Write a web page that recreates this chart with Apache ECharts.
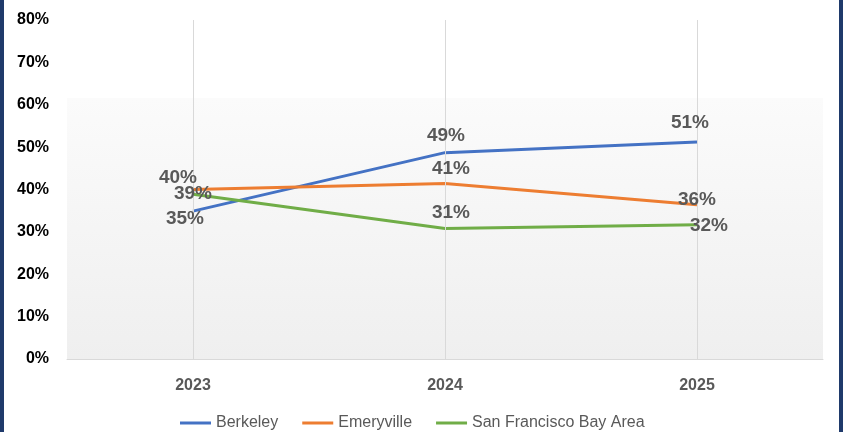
<!DOCTYPE html>
<html><head><meta charset="utf-8">
<script src="https://cdn.jsdelivr.net/npm/echarts@6/dist/echarts.min.js"></script>
<style>html,body{margin:0;padding:0;background:#fff}#c{width:843px;height:432px}</style>
</head><body><div id="c"></div>
<script>
const categories = ['2023', '2024', '2025'];
const berkeley = [34.9, 48.7, 51.2];
const emeryville = [40.0, 41.4, 36.4];
const sfBayArea = [38.9, 30.8, 31.7];
const yTicks = [0, 10, 20, 30, 40, 50, 60, 70, 80];

// label offsets (style only)
const offB = [[-8, 8], [1, -17], [-7, -19]];
const offE = [[-15, -12], [6, -15], [0, -5]];
const offS = [[0, 0], [6, -16], [12, 1]];

const FONT = 'Liberation Sans, Arial, sans-serif';

function line(name, vals, color, extra) {
  return Object.assign({
    name, type: 'line', data: vals,
    symbol: 'none',
    itemStyle: { color },
    lineStyle: { color, width: 3 },
    emphasis: { disabled: true },
    z: 3
  }, extra || {});
}
function labels(name, vals, offs) {
  return {
    name: name + ' labels', type: 'scatter', z: 10, silent: true,
    symbolSize: 2, itemStyle: { color: 'rgba(0,0,0,0)', opacity: 1 },
    emphasis: { disabled: true },
    data: vals.map((v, i) => ({
      value: v,
      label: { show: true, position: 'inside', offset: offs[i], align: 'center', verticalAlign: 'middle',
        fontFamily: FONT, fontWeight: 'bold', fontSize: 19, color: '#595959', opacity: 1,
        formatter: p => Math.round(p.value) + '%' }
    }))
  };
}

const chart = echarts.init(document.getElementById('c'), null, { renderer: 'canvas' });
chart.setOption({
  animation: false,
  grid: { left: 67, right: 20, top: 20, bottom: 73 },
  graphic: [
    { type: 'rect', left: 0, top: 0, shape: { width: 4, height: 432 }, style: { fill: '#1f3a6b' }, z: 100 },
    { type: 'rect', left: 839, top: 0, shape: { width: 4, height: 432 }, style: { fill: '#1f3a6b' }, z: 100 }
  ],
  xAxis: {
    type: 'category', data: categories, boundaryGap: true,
    axisLine: { lineStyle: { color: '#d9d9d9', width: 1 } },
    axisTick: { show: false },
    splitLine: { show: false },
    axisLabel: { margin: 19, fontFamily: FONT, fontWeight: 'bold', fontSize: 16, color: '#595959' }
  },
  yAxis: {
    type: 'value', min: yTicks[0], max: yTicks[yTicks.length - 1], interval: 10,
    axisLine: { show: false }, axisTick: { show: false }, splitLine: { show: false },
    axisLabel: { margin: 18, formatter: '{value}%', fontFamily: FONT, fontWeight: 'bold', fontSize: 16, color: '#000' }
  },
  legend: {
    bottom: -4, left: 175, icon: 'rect', itemWidth: 31, itemHeight: 3, itemGap: 24,
    textStyle: { fontFamily: FONT, fontSize: 16, color: '#595959' },
    data: ['Berkeley', 'Emeryville', 'San Francisco Bay Area']
  },
  series: [
    line('Berkeley', berkeley, '#4472C4', {
      markArea: {
        silent: true, z: 1,
        itemStyle: { color: new echarts.graphic.LinearGradient(0, 0, 0, 1, [{ offset: 0, color: '#fbfbfb' }, { offset: 1, color: '#efefef' }]) },
        data: [[{ yAxis: 0 }, { yAxis: 61.6 }]]
      }
    }),
    line('Emeryville', emeryville, '#ED7D31', {
      markLine: {
        silent: true, symbol: ['none', 'none'], label: { show: false },
        lineStyle: { color: '#d9d9d9', type: 'solid', width: 1 },
        data: categories.map(c => ({ xAxis: c }))
      }
    }),
    line('San Francisco Bay Area', sfBayArea, '#70AD47'),
    labels('Berkeley', berkeley, offB),
    labels('Emeryville', emeryville, offE),
    labels('San Francisco Bay Area', sfBayArea, offS)
  ]
});
</script></body></html>
